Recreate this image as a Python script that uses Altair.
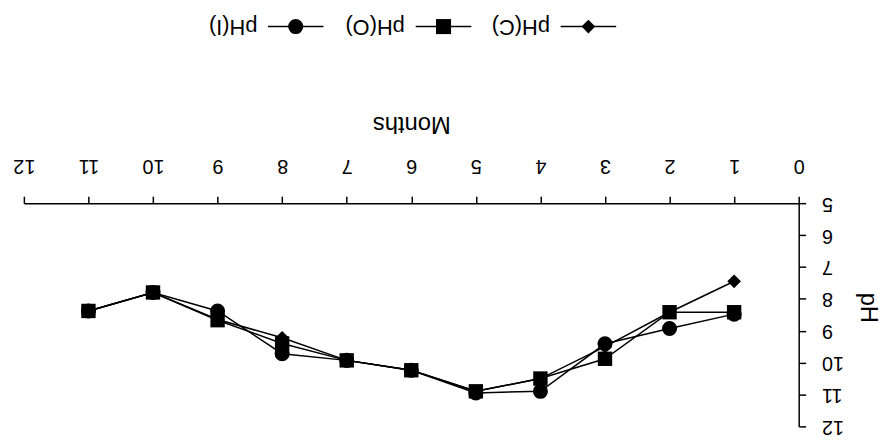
import altair as alt
import pandas as pd

# ---- data read from the (upside-down) reference ----
months = [1, 2, 3, 4, 5, 6, 7, 8, 9, 10, 11]
ph_c = [7.45, 8.42, 9.50, 10.50, 10.90, 10.24, 9.93, 9.22, 8.65, 7.80, 8.38]
ph_o = [8.42, 8.42, 9.88, 10.50, 10.90, 10.24, 9.93, 9.40, 8.67, 7.80, 8.38]
ph_i = [8.48, 8.93, 9.41, 10.90, 10.95, 10.24, 9.93, 9.72, 8.38, 7.80, 8.38]

series_names = ["pH(C)", "pH(O)", "pH(I)"]
series_shapes = ["diamond", "square", "circle"]
series_sizes = [190, 230, 230]
x_ticks = list(range(0, 13))
y_ticks = list(range(5, 13))

rows = []
for name, vals in zip(series_names, [ph_c, ph_o, ph_i]):
    for m, v in zip(months, vals):
        rows.append({"month": m, "pH": v, "series": name})
df = pd.DataFrame(rows)

FONT = "Liberation Sans"

x_scale = alt.Scale(domain=[0, 12], reverse=True, nice=False, zero=False)
y_scale = alt.Scale(domain=[5, 12], reverse=True, nice=False, zero=False)
shape_scale = alt.Scale(domain=series_names, range=series_shapes)
size_scale = alt.Scale(domain=series_names, range=series_sizes)

x_axis = alt.Axis(
    orient="top", values=x_ticks, format="d", title="Months", grid=False,
    labelAngle=180, labelAlign="center", labelBaseline="middle",
    labelPadding=31, tickSize=7, labelOverlap=False, labelFlush=False,
    titleAngle=180, titleBaseline="middle", titleAlign="center", titleY=-80,
    labelFont=FONT, labelFontSize=20, titleFont=FONT, titleFontSize=24,
    titleFontWeight="normal",
)
y_axis = alt.Axis(
    orient="right", values=y_ticks, format="d", title="pH", grid=False,
    labelAngle=180, labelAlign="right", labelBaseline="middle",
    labelPadding=16, tickSize=7, labelOverlap=False, labelFlush=False,
    tickCount=8,
    titleAngle=90, titleAlign="center", titleBaseline="middle",
    titleX=69, titleY=105,
    labelFont=FONT, labelFontSize=20, titleFont=FONT, titleFontSize=24,
    titleFontWeight="normal",
)

base = alt.Chart(df)
lines = base.mark_line(color="black", strokeWidth=1.5).encode(
    x=alt.X("month:Q", scale=x_scale, axis=x_axis),
    y=alt.Y("pH:Q", scale=y_scale, axis=y_axis),
    detail="series:N",
)
points = base.mark_point(filled=True, color="black", opacity=1).encode(
    x=alt.X("month:Q", scale=x_scale, axis=x_axis),
    y=alt.Y("pH:Q", scale=y_scale, axis=y_axis),
    shape=alt.Shape("series:N", scale=shape_scale, legend=None),
    size=alt.Size("series:N", scale=size_scale, legend=None),
)

# ---- hand-made upside-down legend ----
legend_marker_x = [569, 423, 274]   # layout positions (pixels, plot coords)
legend_text_x = [501, 354, 211]
legend_y = -178
legend_layers = []
for name, shp, sz, mx, tx in zip(series_names, series_shapes, series_sizes,
                                  legend_marker_x, legend_text_x):
    one = pd.DataFrame({"series": [name]})
    c = alt.Chart(one)
    legend_layers.append(
        c.mark_rule(color="black", strokeWidth=1.5).encode(
            x=alt.value(mx - 28), x2=alt.value(mx + 28), y=alt.value(legend_y)
        )
    )
    legend_layers.append(
        c.mark_point(filled=True, color="black", opacity=1, shape=shp,
                     size=sz).encode(x=alt.value(mx), y=alt.value(legend_y))
    )
    legend_layers.append(
        c.mark_text(angle=180, font=FONT, fontSize=22, align="center",
                    baseline="middle", color="black").encode(
            text="series:N", x=alt.value(tx), y=alt.value(legend_y)
        )
    )

chart = alt.layer(lines, points, *legend_layers).properties(
    width=781, height=225,
    padding={"left": 16, "top": 195, "right": 88, "bottom": 12},
    autosize=alt.AutoSizeParams(type="none"),
    background="white",
).configure_view(strokeWidth=0).configure_axis(
    domainColor="black", domainWidth=1.5, tickColor="black", tickWidth=1.5,
    labelColor="black", titleColor="black",
)

chart.save("out.html", embed_options={"renderer": "svg", "actions": False})
